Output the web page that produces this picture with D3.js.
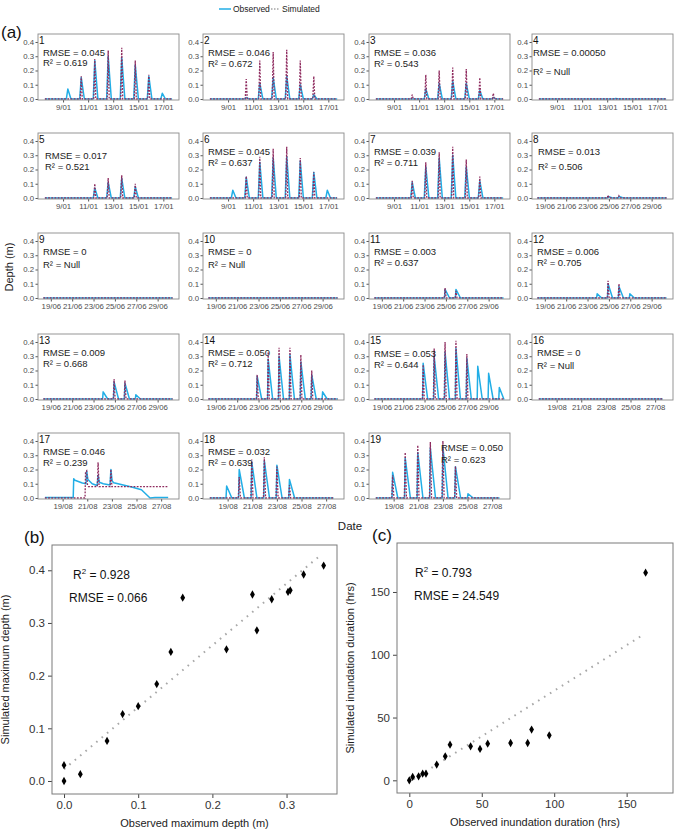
<!DOCTYPE html>
<html>
<head>
<meta charset="utf-8">
<script src="https://cdn.jsdelivr.net/npm/d3@7"></script>
<style>
  body { margin: 0; background: #fff; }
  svg text { font-family: "Liberation Sans", Arial, sans-serif; }
</style>
</head>
<body>
<svg id="chart" width="685" height="832"></svg>
<script>
// ---- panel (a) data: per-site text ----
const panelLabels = ["1","2","3","4","5","6","7","8","9","10","11","12","13","14","15","16","17","18","19"];
const rmseText = ["0.045","0.046","0.036","0.00050","0.017","0.045","0.039","0.013","0","0","0.003","0.006","0.009","0.050","0.053","0","0.046","0.032","0.050"];
const r2Text = ["0.619","0.672","0.543","Null","0.521","0.637","0.711","0.506","Null","Null","0.637","0.705","0.668","0.712","0.644","Null","0.239","0.639","0.623"];
const panelPeriod = ["jan","jan","jan","jan","jan","jan","jan","jun","jun","jun","jun","jun","jun","jun","jun","aug","aug","aug","aug"];

// ---- time axes (day of month) ----
const janTicks = [9, 11, 13, 15, 17];
const janTickLabels = ["9/01", "11/01", "13/01", "15/01", "17/01"];
const junTicks = [19, 21, 23, 25, 27, 29];
const junTickLabels = ["19/06", "21/06", "23/06", "25/06", "27/06", "29/06"];
const augTicks = [19, 21, 23, 25, 27];
const augTickLabels = ["19/08", "21/08", "23/08", "25/08", "27/08"];
const depthTicks = [0, 0.1, 0.2, 0.3, 0.4];
const depthTickLabels = ["0.0", "0.1", "0.2", "0.3", "0.4"];

const janDomain = [7.0, 18.25];
const junDomain = [17.8, 31.0];
const augDomain = [17.0, 28.45];
const janRecord = [7.55, 17.7];
const junRecord = [18.3, 30.4];
const augRecord = [17.55, 27.6];

// high tide times (day of month)
const janPeakDays = [9.38, 10.45, 11.53, 12.6, 13.68, 14.76, 15.84, 16.92];
const junPeakDays = [22.87, 23.9, 24.92, 25.94, 26.96, 27.98, 29.0, 30.0];
const augPeakDays = [18.92, 19.94, 20.96, 21.98, 23.0, 24.02, 25.04];

// peak depth (m) at each high tide, observed / simulated
const obsPeak01 = [0.07, 0.15, 0.27, 0.30, 0.29, 0.24, 0.16, 0.04];
const simPeak01 = [0, 0.16, 0.28, 0.34, 0.36, 0.27, 0.17, 0];
const obsPeak02 = [0, 0.01, 0.11, 0.15, 0.16, 0.10, 0.03, 0];
const simPeak02 = [0, 0.14, 0.27, 0.33, 0.345, 0.27, 0.16, 0];
const obsPeak03 = [0, 0, 0.07, 0.11, 0.125, 0.11, 0.06, 0.01];
const simPeak03 = [0, 0.03, 0.17, 0.20, 0.22, 0.21, 0.15, 0.04];
const obsPeak04 = [0, 0, 0, 0, 0.004, 0, 0, 0];
const simPeak04 = [0, 0, 0, 0, 0, 0, 0, 0];
const obsPeak05 = [0, 0, 0.07, 0.11, 0.138, 0.08, 0, 0];
const simPeak05 = [0, 0, 0.10, 0.14, 0.16, 0.10, 0, 0];
const obsPeak06 = [0.055, 0.146, 0.25, 0.28, 0.29, 0.26, 0.18, 0.055];
const simPeak06 = [0, 0.153, 0.29, 0.345, 0.36, 0.28, 0.18, 0];
const obsPeak07 = [0, 0.11, 0.22, 0.28, 0.30, 0.22, 0.12, 0];
const simPeak07 = [0, 0.12, 0.25, 0.32, 0.36, 0.27, 0.15, 0];
const obsPeak08 = [0, 0, 0.01, 0.01, 0, 0, 0, 0];
const simPeak08 = [0, 0, 0.02, 0.015, 0, 0, 0, 0];
const obsPeak09 = [0, 0, 0, 0, 0, 0, 0, 0];
const simPeak09 = [0, 0, 0, 0, 0, 0, 0, 0];
const obsPeak10 = [0, 0, 0, 0, 0, 0, 0, 0];
const simPeak10 = [0, 0, 0, 0, 0, 0, 0, 0];
const obsPeak11 = [0, 0, 0.06, 0.06, 0, 0, 0, 0];
const simPeak11 = [0, 0, 0.07, 0.05, 0, 0, 0, 0];
const obsPeak12 = [0, 0.03, 0.10, 0.08, 0.03, 0, 0, 0];
const simPeak12 = [0, 0, 0.12, 0.10, 0, 0, 0, 0];
const obsPeak13 = [0, 0.05, 0.12, 0.11, 0.03, 0, 0, 0];
const simPeak13 = [0, 0, 0.14, 0.13, 0, 0, 0, 0];
const obsPeak14 = [0.16, 0.28, 0.30, 0.31, 0.26, 0.17, 0.05, 0];
const simPeak14 = [0.17, 0.33, 0.36, 0.36, 0.31, 0.20, 0, 0];
const obsPeak15 = [0.25, 0.30, 0.33, 0.354, 0.286, 0.23, 0.18, 0.08];
const simPeak15 = [0.24, 0.354, 0.40, 0.409, 0.315, 0, 0, 0];
const obsPeak16 = [0, 0, 0, 0, 0, 0, 0];
const simPeak16 = [0, 0, 0, 0, 0, 0, 0];
const obsPeak18 = [0.084, 0.20, 0.25, 0.26, 0.23, 0.13, 0];
const simPeak18 = [0, 0.147, 0.27, 0.286, 0.22, 0.09, 0];
const obsPeak19 = [0.18, 0.28, 0.32, 0.35, 0.36, 0.22, 0.03];
const simPeak19 = [0.16, 0.32, 0.37, 0.392, 0.40, 0.223, 0];

// site 17 has a standing water level, read as [day, depth] vertices
const obsTrace17 = [[17.56,0.004],[19.86,0.004],[19.9,0.135],[20.0,0.125],[20.6,0.105],[20.9,0.10],[20.95,0.19],[21.05,0.13],[21.4,0.10],[21.8,0.088],[21.88,0.16],[21.98,0.11],[22.3,0.10],[22.85,0.092],[22.92,0.20],[23.02,0.12],[23.15,0.107],[24.6,0.077],[25.4,0.058],[26.1,0.0],[26.5,0.004],[27.57,0.004]];
const simTrace17 = [[17.56,0],[20.82,0],[20.86,0.18],[20.95,0.19],[21.02,0.09],[21.1,0.08],[21.82,0.08],[21.88,0.25],[21.96,0.08],[22.86,0.08],[22.92,0.20],[23.0,0.08],[27.57,0.08]];

const obsPeaks = [obsPeak01,obsPeak02,obsPeak03,obsPeak04,obsPeak05,obsPeak06,obsPeak07,obsPeak08,obsPeak09,obsPeak10,obsPeak11,obsPeak12,obsPeak13,obsPeak14,obsPeak15,obsPeak16,null,obsPeak18,obsPeak19];
const simPeaks = [simPeak01,simPeak02,simPeak03,simPeak04,simPeak05,simPeak06,simPeak07,simPeak08,simPeak09,simPeak10,simPeak11,simPeak12,simPeak13,simPeak14,simPeak15,simPeak16,null,simPeak18,simPeak19];

// ---- panel (b): maximum depth (m) ----
const obsMaxDepth = [0, 0, 0.022, 0.058, 0.079, 0.100, 0.125, 0.144, 0.160, 0.219, 0.254, 0.260, 0.280, 0.302, 0.305, 0.323, 0.350];
const simMaxDepth = [0.030, 0.000, 0.013, 0.076, 0.127, 0.142, 0.184, 0.245, 0.348, 0.250, 0.354, 0.286, 0.345, 0.359, 0.362, 0.392, 0.409];
const fitLineB = [[0.0, 0.0225], [0.347, 0.430]];
const depthAxisTicks = [0, 0.1, 0.2, 0.3, 0.4];

// ---- panel (c): inundation duration (hrs) ----
const obsDuration = [0, 2.3, 6.4, 9.2, 11.5, 18.9, 24.8, 28.1, 42.3, 48.8, 54.1, 69.9, 81.7, 84.4, 96.6, 163.1];
const simDuration = [0, 2.7, 3.2, 5.3, 5.3, 12.5, 19.1, 28.4, 27.1, 25.0, 29.2, 29.7, 29.7, 40.4, 35.8, 165.4];
const fitLineC = [[3, 1.0], [162, 116.3]];
const durationTicks = [0, 50, 100, 150];

// ---- styles / layout ----
const obsColor = "#22aee6";
const simColor = "#8e2a5e";
const font = '"Liberation Sans", Arial, sans-serif';
const colLeft = [38, 203, 369, 532];
const rowTop = [34, 133, 233, 334, 433];
const boxW = 141, boxH = 66;
// [dx, rmse centre, r2 centre] relative to the panel box
const textPos = [[5,18,28],[5,18,29],[5,18,29],[1,18,37],[7,22,33],[5,18,29],[5,18,29],[6,18,33],[5,18,31],[5,18,31],[5,18,29],[5,18,29],[5,18,29],[5,18,29],[5,19,30],[5,18,31],[5,18,29],[5,18,29],[72,14,26]];

const periods = {
  jan: { domain: janDomain, ticks: janTicks, labels: janTickLabels, days: janPeakDays, record: janRecord, obsShape: [0.12, 0.25], simShape: [0.08, 0.08] },
  jun: { domain: junDomain, ticks: junTicks, labels: junTickLabels, days: junPeakDays, record: junRecord, obsShape: [0.05, 0.42], simShape: [0.07, 0.1] },
  aug: { domain: augDomain, ticks: augTicks, labels: augTickLabels, days: augPeakDays, record: augRecord, obsShape: [0.05, 0.42], simShape: [0.07, 0.1] }
};

const pulseTrace = (peaks, days, record, shape) => {
  const pts = [[record[0], 0]];
  peaks.forEach((h, i) => {
    if (h > 0) pts.push([days[i] - shape[0], 0], [days[i], h], [days[i] + shape[1], 0]);
  });
  pts.push([record[1], 0]);
  return pts;
};

const svg = d3.select("#chart");

// legend
const legend = svg.append("g").attr("transform", "translate(0,9)");
legend.append("line").attr("x1", 219).attr("x2", 231).attr("stroke", obsColor).attr("stroke-width", 1.5);
legend.append("text").attr("x", 233).attr("y", 3).attr("font-size", 8.5).attr("fill", "#222").text("Observed");
legend.append("line").attr("x1", 268).attr("x2", 280).attr("stroke", "#777").attr("stroke-width", 1.2).attr("stroke-dasharray", "1.5,1.5");
legend.append("text").attr("x", 282).attr("y", 3).attr("font-size", 8.5).attr("fill", "#222").text("Simulated");

svg.append("text").attr("x", 1).attr("y", 38).attr("font-size", 17).attr("fill", "#111").text("(a)");

const y = d3.scaleLinear().domain([-0.007, 0.456]).range([boxH, 0]);

panelLabels.forEach((label, i) => {
  const p = periods[panelPeriod[i]];
  const left = colLeft[i % 4], top = rowTop[Math.floor(i / 4)];
  const x = d3.scaleLinear().domain(p.domain).range([0, boxW]);
  const g = svg.append("g").attr("transform", `translate(${left},${top})`);

  g.append("clipPath").attr("id", "clip" + i)
    .append("rect").attr("width", boxW).attr("height", boxH);

  const yAxis = g.append("g")
    .call(d3.axisLeft(y).tickValues(depthTicks).tickFormat((d, k) => depthTickLabels[k]).tickSize(2.5).tickPadding(1.5));
  const xAxis = g.append("g").attr("transform", `translate(0,${boxH})`)
    .call(d3.axisBottom(x).tickValues(p.ticks).tickFormat((d, k) => p.labels[k]).tickSize(2.5).tickPadding(2));
  [yAxis, xAxis].forEach((a) => {
    a.select(".domain").remove();
    a.selectAll("line").attr("stroke", "#555");
    a.selectAll("text").attr("font-size", 7.8).attr("font-family", font).attr("fill", "#4d4d4d");
  });

  const obs = i === 16 ? obsTrace17 : pulseTrace(obsPeaks[i], p.days, p.record, p.obsShape);
  const sim = i === 16 ? simTrace17 : pulseTrace(simPeaks[i], p.days, p.record, p.simShape);
  const line = d3.line().x((d) => x(d[0])).y((d) => y(d[1]));
  const plot = g.append("g").attr("clip-path", `url(#clip${i})`);
  plot.append("path").attr("d", line(obs)).attr("fill", "none")
    .attr("stroke", obsColor).attr("stroke-width", 1.5).attr("stroke-linejoin", "round");
  plot.append("path").attr("d", line(sim)).attr("fill", "none")
    .attr("stroke", simColor).attr("stroke-width", 1.3).attr("stroke-dasharray", "1.8,1.4");

  g.append("rect").attr("width", boxW).attr("height", boxH)
    .attr("fill", "none").attr("stroke", "#8a8a8a").attr("stroke-width", 0.9);

  const tp = textPos[i];
  g.append("text").attr("x", 1).attr("y", 10).attr("font-size", 10).attr("fill", "#111").text(label);
  g.append("text").attr("x", tp[0]).attr("y", tp[1] + 3.5).attr("font-size", 9.5).attr("fill", "#222")
    .text("RMSE = " + rmseText[i]);
  g.append("text").attr("x", tp[0]).attr("y", tp[2] + 3.5).attr("font-size", 9.5).attr("fill", "#222")
    .text("R² = " + r2Text[i]);
});

svg.append("text").attr("transform", "translate(13,267) rotate(-90)").attr("text-anchor", "middle")
  .attr("font-size", 11).attr("fill", "#222").text("Depth (m)");
svg.append("text").attr("x", 350).attr("y", 530).attr("text-anchor", "middle")
  .attr("font-size", 11.5).attr("fill", "#222").text("Date");

// ---- scatter panels ----
const scatterPanel = (cfg) => {
  const g = svg.append("g").attr("transform", `translate(${cfg.left},${cfg.top})`);
  const w = cfg.width, h = cfg.height;
  const sx = d3.scaleLinear().domain(cfg.xDomain).range([0, w]);
  const sy = d3.scaleLinear().domain(cfg.yDomain).range([h, 0]);

  const ax = g.append("g").attr("transform", `translate(0,${h})`)
    .call(d3.axisBottom(sx).tickValues(cfg.ticksX).tickFormat(cfg.fmt).tickSize(4).tickPadding(3));
  const ay = g.append("g")
    .call(d3.axisLeft(sy).tickValues(cfg.ticksY).tickFormat(cfg.fmt).tickSize(4).tickPadding(3));
  [ax, ay].forEach((a) => {
    a.select(".domain").remove();
    a.selectAll("line").attr("stroke", "#444");
    a.selectAll("text").attr("font-size", 11.5).attr("font-family", font).attr("fill", "#333");
  });

  g.append("path").attr("d", d3.line().x((d) => sx(d[0])).y((d) => sy(d[1]))(cfg.fit))
    .attr("stroke", "#a8a8a8").attr("stroke-width", 2).attr("stroke-dasharray", "1.6,5.4")
    .attr("fill", "none");

  g.selectAll(".pt").data(cfg.xs).enter().append("path")
    .attr("transform", (d, k) => `translate(${sx(d)},${sy(cfg.ys[k])})`)
    .attr("d", d3.symbol().type(d3.symbolDiamond).size(20)).attr("fill", "#000");

  g.append("rect").attr("width", w).attr("height", h).attr("fill", "none")
    .attr("stroke", "#7a7a7a").attr("stroke-width", 1);

  const r2 = g.append("text").attr("x", cfg.r2X).attr("y", 34).attr("font-size", 12).attr("fill", "#111");
  r2.append("tspan").text("R");
  r2.append("tspan").attr("dy", -5).attr("font-size", 8).text("2");
  r2.append("tspan").attr("dy", 5).text(" = " + cfg.r2);
  g.append("text").attr("x", cfg.rmseX).attr("y", 57).attr("font-size", 12).attr("fill", "#111")
    .text("RMSE = " + cfg.rmse);

  g.append("text").attr("x", w / 2).attr("y", h + 33).attr("text-anchor", "middle")
    .attr("font-size", 11).attr("fill", "#222").text(cfg.xTitle);
  g.append("text").attr("transform", `translate(${cfg.yTitleX},${h / 2}) rotate(-90)`)
    .attr("text-anchor", "middle").attr("font-size", 11).attr("fill", "#222").text(cfg.yTitle);
  svg.append("text").attr("x", cfg.tagX).attr("y", cfg.top - 2).attr("font-size", 17)
    .attr("fill", "#111").text(cfg.tag);
};

scatterPanel({
  left: 52, top: 545, width: 285, height: 249,
  xDomain: [-0.0162, 0.368], yDomain: [-0.0247, 0.448],
  ticksX: [0, 0.1, 0.2, 0.3], ticksY: depthAxisTicks, fmt: d3.format(".1f"),
  xs: obsMaxDepth, ys: simMaxDepth, fit: fitLineB,
  r2: "0.928", rmse: "0.066", r2X: 21, rmseX: 17,
  xTitle: "Observed maximum depth (m)", yTitle: "Simulated maximum depth (m)", yTitleX: -43,
  tag: "(b)", tagX: 24
});

scatterPanel({
  left: 397, top: 543, width: 276, height: 250,
  xDomain: [-8.5, 182], yDomain: [-10.1, 189],
  ticksX: durationTicks, ticksY: durationTicks, fmt: d3.format("d"),
  xs: obsDuration, ys: simDuration, fit: fitLineC,
  r2: "0.793", rmse: "24.549", r2X: 18, rmseX: 17,
  xTitle: "Observed inundation duration (hrs)", yTitle: "Simulated inundation duration (hrs)", yTitleX: -43,
  tag: "(c)", tagX: 372
});
</script>
</body>
</html>
